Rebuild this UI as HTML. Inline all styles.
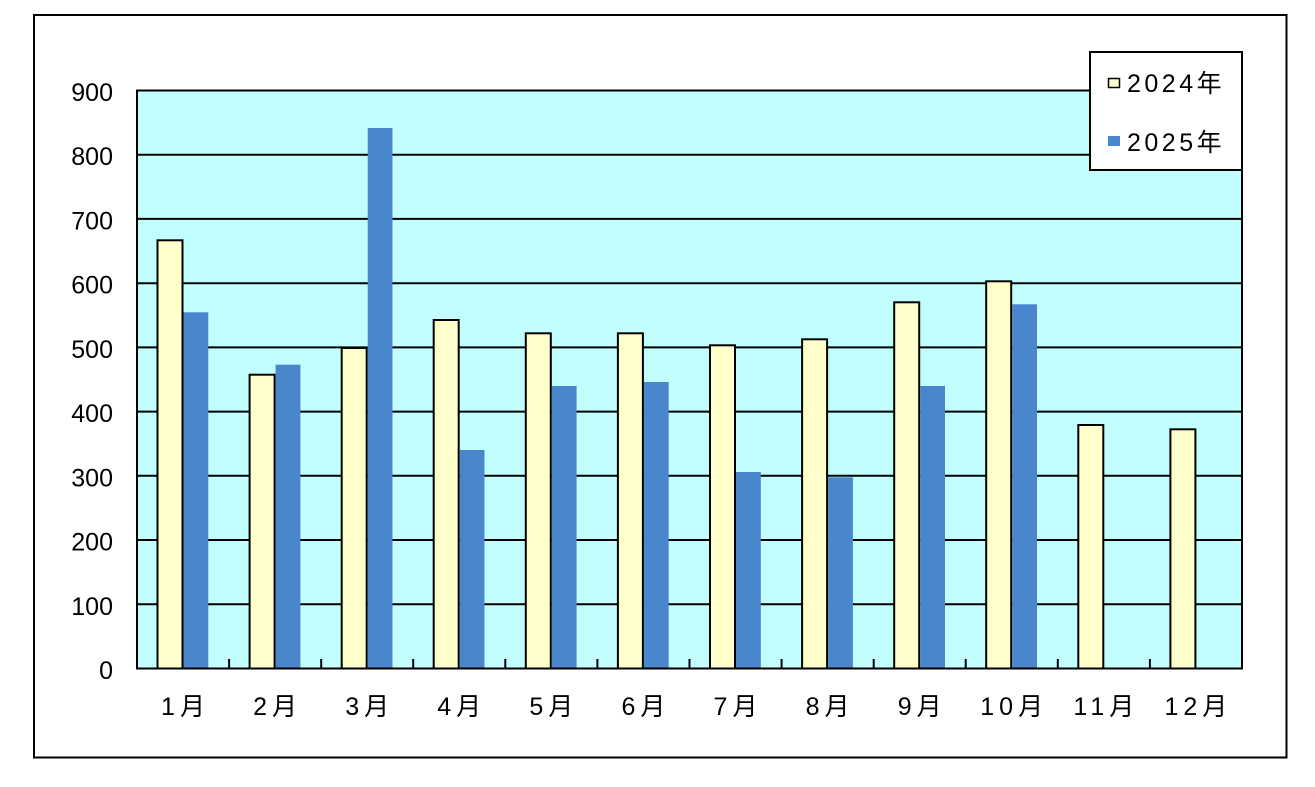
<!DOCTYPE html>
<html><head><meta charset="utf-8"><style>
html,body{margin:0;padding:0;background:#fff;}
svg{display:block;}
text{font-family:"Liberation Sans","Noto Sans CJK JP",sans-serif;fill:#000;}
</style></head><body>
<svg width="1315" height="787" viewBox="0 0 1315 787" xmlns="http://www.w3.org/2000/svg">
<rect x="0" y="0" width="1315" height="787" fill="#fff"/>
<rect x="34" y="15" width="1252.5" height="742.5" fill="#fff" stroke="#000" stroke-width="2"/>
<rect x="137" y="90.5" width="1105" height="578" fill="#C2FEFE"/>
<g stroke="#000" stroke-width="2">
<line x1="137" x2="1242" y1="154.7" y2="154.7"/>
<line x1="137" x2="1242" y1="218.9" y2="218.9"/>
<line x1="137" x2="1242" y1="283.2" y2="283.2"/>
<line x1="137" x2="1242" y1="347.4" y2="347.4"/>
<line x1="137" x2="1242" y1="411.6" y2="411.6"/>
<line x1="137" x2="1242" y1="475.8" y2="475.8"/>
<line x1="137" x2="1242" y1="540.0" y2="540.0"/>
<line x1="137" x2="1242" y1="604.3" y2="604.3"/>
</g>
<g fill="#FFFFCC" stroke="#000" stroke-width="2">
<rect x="157.5" y="240.3" width="25" height="428.2"/>
<rect x="249.6" y="374.7" width="25" height="293.8"/>
<rect x="341.7" y="348" width="25" height="320.5"/>
<rect x="433.7" y="320" width="25" height="348.5"/>
<rect x="525.8" y="333.3" width="25" height="335.2"/>
<rect x="617.9" y="333.3" width="25" height="335.2"/>
<rect x="710" y="345.3" width="25" height="323.2"/>
<rect x="802.1" y="339.3" width="25" height="329.2"/>
<rect x="894.2" y="302.3" width="25" height="366.2"/>
<rect x="986.2" y="281.3" width="25" height="387.2"/>
<rect x="1078.3" y="425" width="25" height="243.5"/>
<rect x="1170.4" y="429.3" width="25" height="239.2"/>
</g>
<g fill="#4A86CC">
<rect x="183.5" y="312.3" width="24.8" height="356.2"/>
<rect x="275.6" y="364.7" width="24.8" height="303.8"/>
<rect x="367.7" y="128" width="24.8" height="540.5"/>
<rect x="459.7" y="450" width="24.8" height="218.5"/>
<rect x="551.8" y="386" width="24.8" height="282.5"/>
<rect x="643.9" y="382" width="24.8" height="286.5"/>
<rect x="736" y="472" width="24.8" height="196.5"/>
<rect x="828.1" y="477.3" width="24.8" height="191.2"/>
<rect x="920.2" y="386" width="24.8" height="282.5"/>
<rect x="1012.2" y="304.3" width="24.8" height="364.2"/>
</g>
<rect x="137" y="90.5" width="1105" height="578" fill="none" stroke="#000" stroke-width="2"/>
<g stroke="#000" stroke-width="2">
<line x1="229.1" x2="229.1" y1="668.5" y2="659"/>
<line x1="321.2" x2="321.2" y1="668.5" y2="659"/>
<line x1="413.2" x2="413.2" y1="668.5" y2="659"/>
<line x1="505.3" x2="505.3" y1="668.5" y2="659"/>
<line x1="597.4" x2="597.4" y1="668.5" y2="659"/>
<line x1="689.5" x2="689.5" y1="668.5" y2="659"/>
<line x1="781.6" x2="781.6" y1="668.5" y2="659"/>
<line x1="873.7" x2="873.7" y1="668.5" y2="659"/>
<line x1="965.7" x2="965.7" y1="668.5" y2="659"/>
<line x1="1057.8" x2="1057.8" y1="668.5" y2="659"/>
<line x1="1149.9" x2="1149.9" y1="668.5" y2="659"/>
</g>
<g font-size="25" text-anchor="end">
<text x="113" y="101">900</text>
<text x="113" y="165.2">800</text>
<text x="113" y="229.4">700</text>
<text x="113" y="293.7">600</text>
<text x="113" y="357.9">500</text>
<text x="113" y="422.1">400</text>
<text x="113" y="486.3">300</text>
<text x="113" y="550.5">200</text>
<text x="113" y="614.8">100</text>
<text x="113" y="679">0</text>
</g>
<g font-size="25" text-anchor="middle" letter-spacing="5">
<text x="185.5" y="715">1月</text>
<text x="277.6" y="715">2月</text>
<text x="369.7" y="715">3月</text>
<text x="461.7" y="715">4月</text>
<text x="553.8" y="715">5月</text>
<text x="645.9" y="715">6月</text>
<text x="738" y="715">7月</text>
<text x="830.1" y="715">8月</text>
<text x="922.2" y="715">9月</text>
<text x="1014.2" y="715">10月</text>
<text x="1106.3" y="715">11月</text>
<text x="1198.4" y="715">12月</text>
</g>
<rect x="1090" y="52" width="152" height="118" fill="#fff" stroke="#000" stroke-width="2"/>
<rect x="1108.5" y="78.5" width="11" height="9" fill="#FFFFCC" stroke="#000" stroke-width="1.5"/>
<rect x="1108" y="136" width="12" height="10" fill="#4A86CC"/>
<g font-size="25" letter-spacing="3.5">
<text x="1127" y="92">2024年</text>
<text x="1127" y="151">2025年</text>
</g>
</svg>
</body></html>
